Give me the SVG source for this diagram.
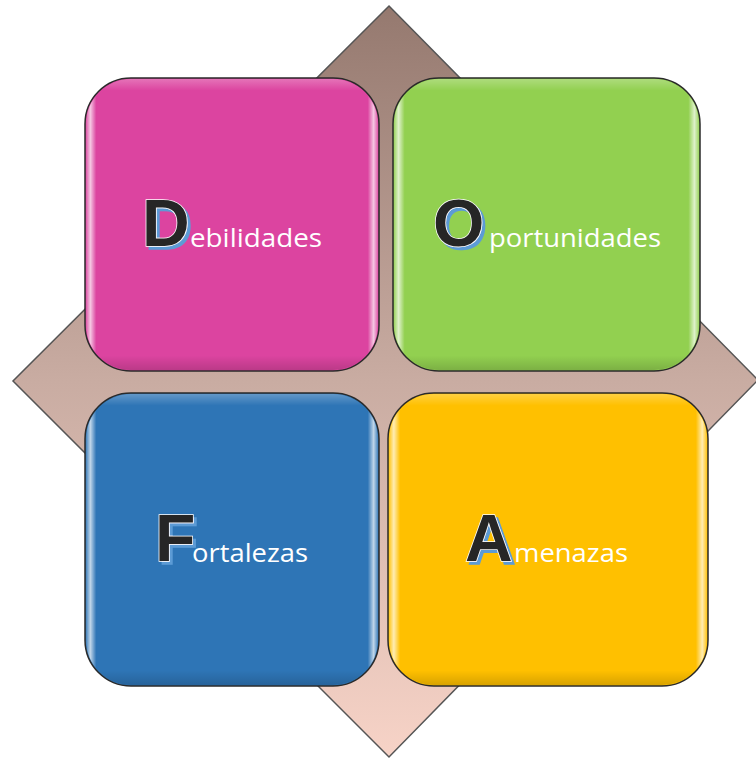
<svg xmlns="http://www.w3.org/2000/svg" width="756" height="761" viewBox="0 0 756 761">
<defs>
<linearGradient id="dg" x1="0" y1="0" x2="0" y2="1">
<stop offset="0" stop-color="#95796f"/>
<stop offset="0.5" stop-color="#c9aca2"/>
<stop offset="1" stop-color="#f7d3c7"/>
</linearGradient>
<linearGradient id="gloss" x1="0" y1="0" x2="1" y2="0">
<stop offset="0" stop-color="#fff" stop-opacity="0.1"/>
<stop offset="0.015" stop-color="#fff" stop-opacity="0.7"/>
<stop offset="0.035" stop-color="#fff" stop-opacity="0"/>
<stop offset="0.965" stop-color="#fff" stop-opacity="0"/>
<stop offset="0.985" stop-color="#fff" stop-opacity="0.7"/>
<stop offset="1" stop-color="#fff" stop-opacity="0.1"/>
</linearGradient>
<linearGradient id="shade" x1="0" y1="0" x2="0" y2="1">
<stop offset="0" stop-color="#fff" stop-opacity="0.25"/>
<stop offset="0.04" stop-color="#fff" stop-opacity="0"/>
<stop offset="0.95" stop-color="#000" stop-opacity="0"/>
<stop offset="1" stop-color="#000" stop-opacity="0.15"/>
</linearGradient>
<filter id="ts" x="-20%" y="-20%" width="140%" height="140%">
<feDropShadow dx="3" dy="3" stdDeviation="0.4" flood-color="#5b9bd5" flood-opacity="1"/>
</filter>
</defs>
<style>
.box{stroke:#2a2a2a;stroke-width:1.5}
.ov{stroke:none}
.big{font-family:"Liberation Sans",Arial,sans-serif;font-weight:bold;font-size:66px;fill:#262626;stroke:#ffffff;stroke-width:1.5;paint-order:stroke;filter:url(#ts)}
.sm{font-family:"Open Sans","Liberation Sans",sans-serif;font-size:26px;fill:#ffffff}
</style>
<polygon id="diamond" points="389,6 758,380 389,757 13,381" fill="url(#dg)" stroke="#555" stroke-width="1.5"/>
<g id="debilidades">
<rect class="box" x="85" y="78" width="294" height="293" rx="46" fill="#dc44a0"/>
<rect class="ov" x="86" y="79" width="292" height="291" rx="45" fill="url(#gloss)"/>
<rect class="ov" x="86" y="79" width="292" height="291" rx="45" fill="url(#shade)"/>
<text class="big" x="142" y="246">D</text>
<text class="sm" x="190" y="247" textLength="132" lengthAdjust="spacingAndGlyphs">ebilidades</text>
</g>
<g id="oportunidades">
<rect class="box" x="393" y="78" width="307" height="293" rx="46" fill="#92d050"/>
<rect class="ov" x="394" y="79" width="305" height="291" rx="45" fill="url(#gloss)"/>
<rect class="ov" x="394" y="79" width="305" height="291" rx="45" fill="url(#shade)"/>
<text class="big" x="433" y="246">O</text>
<text class="sm" x="489" y="247" textLength="172" lengthAdjust="spacingAndGlyphs">portunidades</text>
</g>
<g id="fortalezas">
<rect class="box" x="85" y="393" width="294" height="293" rx="46" fill="#2e75b6"/>
<rect class="ov" x="86" y="394" width="292" height="291" rx="45" fill="url(#gloss)"/>
<rect class="ov" x="86" y="394" width="292" height="291" rx="45" fill="url(#shade)"/>
<text class="big" x="155" y="561">F</text>
<text class="sm" x="192" y="562" textLength="116" lengthAdjust="spacingAndGlyphs">ortalezas</text>
</g>
<g id="amenazas">
<rect class="box" x="388" y="393" width="320" height="293" rx="46" fill="#ffc000"/>
<rect class="ov" x="389" y="394" width="318" height="291" rx="45" fill="url(#gloss)"/>
<rect class="ov" x="389" y="394" width="318" height="291" rx="45" fill="url(#shade)"/>
<text class="big" x="465" y="561">A</text>
<text class="sm" x="514" y="562" textLength="114" lengthAdjust="spacingAndGlyphs">menazas</text>
</g>
<g id="connectors"/>
</svg>
